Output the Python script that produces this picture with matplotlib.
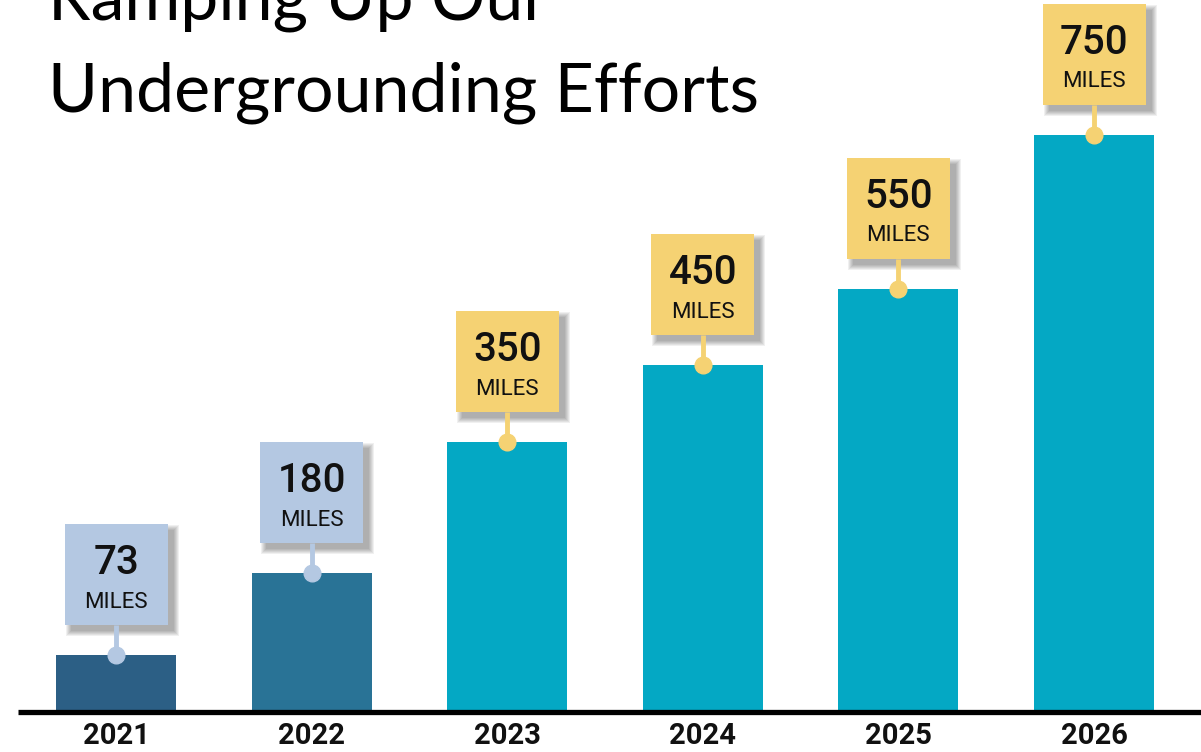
import numpy as np
import matplotlib.pyplot as plt
from matplotlib.patches import Rectangle

years = ['2021', '2022', '2023', '2024', '2025', '2026']
miles = [73, 180, 350, 450, 550, 750]
bar_colors = ['#2c5f85', '#297396', '#04a8c4', '#04a8c4', '#04a8c4', '#04a8c4']
tag_colors = ['#b4c8e2', '#b4c8e2', '#f5d273', '#f5d273', '#f5d273', '#f5d273']

W, H = 1201, 752
fig = plt.figure(figsize=(W / 100, H / 100), dpi=100)

# axes spans the whole width; baseline sits near the bottom
base_px = 711.5
ax = fig.add_axes([0, (H - base_px) / H, 1, base_px / H])
step_px = 195.6
first_px = 116
ax.set_xlim(-first_px / step_px, (W - first_px) / step_px)
ppm = 0.769  # pixels per mile
ax.set_ylim(0, base_px / ppm)
ax.axis('off')

mpp = 1 / ppm  # miles per pixel
dpx = 1 / step_px  # x units per pixel

x = np.arange(len(years))
ax.bar(x, miles, width=120 * dpx, color=bar_colors, zorder=2)

# baseline
ax.plot([-(first_px - 18) * dpx, (W - first_px) * dpx], [0, 0], color='black',
        lw=3.8, solid_capstyle='butt', zorder=3, clip_on=False)

box_w = 103 * dpx
box_h = 101 * mpp
gap = 30 * mpp
for xi, v, c in zip(x, miles, tag_colors):
    bottom = v + gap
    left = xi - box_w / 2
    # soft drop shadow, offset down-right
    off = 6
    for k in range(5, -1, -1):
        ax.add_patch(Rectangle((left + (off - k) * dpx, bottom - (off + k) * mpp),
                               box_w + 2 * k * dpx, box_h + 2 * k * mpp,
                               facecolor='black', alpha=0.06, lw=0, zorder=3))
    ax.add_patch(Rectangle((left, bottom), box_w, box_h,
                           facecolor=c, lw=0, zorder=4))
    ax.plot([xi, xi], [v, bottom], color=c, lw=3.5, zorder=3.5, solid_capstyle='butt')
    ax.plot(xi, v, 'o', color=c, ms=12, zorder=5)
    top = bottom + box_h
    ax.text(xi, top - 39 * mpp, str(v), ha='center', va='center', fontsize=29,
            fontfamily='Roboto', fontweight='medium', color='#111111', zorder=6)
    ax.text(xi, top - 78 * mpp, 'MILES', ha='center', va='center', fontsize=16,
            fontfamily='Roboto', color='#111111', zorder=6)

for xi, yr in zip(x, years):
    ax.text(xi, -24 * mpp, yr, ha='center', va='center', fontsize=21,
            fontfamily='Roboto', fontweight='bold', color='#111111', clip_on=False)

fig.text(48 / W, 1 - 20 / H, 'Ramping Up Our', fontsize=49, fontfamily='Lato',
         ha='left', va='baseline')
fig.text(48 / W, 1 - 112 / H, 'Undergrounding Efforts', fontsize=49, fontfamily='Lato',
         ha='left', va='baseline')

fig.savefig('out.png', dpi=100)
